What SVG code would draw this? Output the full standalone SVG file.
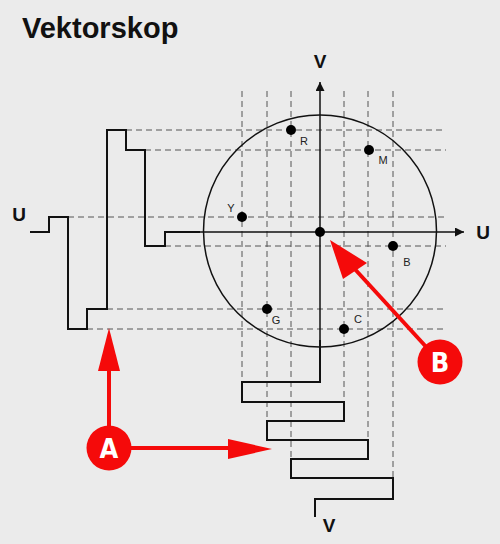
<svg xmlns="http://www.w3.org/2000/svg" width="500" height="544" viewBox="0 0 500 544">
<style>
.bg{fill:#ebebeb}
.dash{fill:none;stroke:#555;stroke-width:1;stroke-dasharray:6 4}
.wave{fill:none;stroke:#111;stroke-width:2}
.axis{fill:none;stroke:#111;stroke-width:1.5}
.dot{fill:#000}
.lbl{font-family:"Liberation Sans",Arial,sans-serif;font-size:11px;fill:#222;text-anchor:middle}
.big{font-family:"Liberation Sans",Arial,sans-serif;font-weight:bold;fill:#111;text-anchor:middle}
.red{fill:#f50a0a}
.redl{stroke:#f50a0a;stroke-width:4;fill:none}
.mark{font-family:"Liberation Sans Narrow","DejaVu Sans Condensed","Liberation Sans",sans-serif;font-weight:bold;font-size:27px;fill:#fff;text-anchor:middle}
</style>
<defs>
<marker id="ah" viewBox="0 0 10 10" refX="10" refY="5" markerWidth="9" markerHeight="9" markerUnits="userSpaceOnUse" orient="auto"><path d="M0,0 L10,5 L0,10 z" fill="#111"/></marker>
</defs>
<rect class="bg" x="0" y="0" width="500" height="544"/>
<text x="22" y="38" font-family="'Liberation Sans',Arial,sans-serif" font-weight="bold" font-size="29" fill="#111">Vektorskop</text>

<g id="gridlines">
<path class="dash" d="M126,130H446 M145,150H446 M68,217H446 M165,246H446 M107,309H446 M87,329H446"/>
<path class="dash" d="M242,91V382 M267,91V421 M291,91V459 M344,91V402 M368,91V440 M393,91V478"/>
</g>

<g id="scope">
<ellipse cx="320" cy="231" rx="116.5" ry="116" fill="none" stroke="#111" stroke-width="1.5"/>
</g>

<g id="axes">
<path class="axis" d="M165,232H464" marker-end="url(#ah)"/>
<path class="axis" d="M320,382V82" marker-end="url(#ah)"/>
<text class="big" x="483" y="239" font-size="19">U</text>
<text class="big" x="320" y="68" font-size="19">V</text>
</g>

<g id="u-wave">
<polyline class="wave" points="30,232 49,232 49,217 68,217 68,329 87,329 87,309 107,309 107,130 126,130 126,150 145,150 145,246 165,246 165,232 200,232"/>
<text class="big" x="19" y="221" font-size="19">U</text>
</g>

<g id="v-wave">
<polyline class="wave" points="320,340 320,382 242,382 242,402 344,402 344,421 267,421 267,440 368,440 368,459 291,459 291,478 393,478 393,499 315,499 315,517"/>
<text class="big" x="329" y="532" font-size="19">V</text>
</g>

<g id="points">
<circle class="dot" cx="291" cy="130" r="5"/><text class="lbl" x="304" y="145">R</text>
<circle class="dot" cx="369" cy="150" r="5"/><text class="lbl" x="383" y="164">M</text>
<circle class="dot" cx="242" cy="217" r="5"/><text class="lbl" x="231" y="212">Y</text>
<circle class="dot" cx="320" cy="232" r="5"/>
<circle class="dot" cx="393" cy="246" r="5"/><text class="lbl" x="407" y="266">B</text>
<circle class="dot" cx="267" cy="309" r="5"/><text class="lbl" x="276" y="324">G</text>
<circle class="dot" cx="344" cy="329" r="5"/><text class="lbl" x="358" y="323">C</text>
</g>

<g id="marker-a">
<path class="redl" d="M109,448V368 M109,448H230"/>
<path class="red" d="M109,328 L120,371 L98,371 z"/>
<path class="red" d="M272,449 L228,439 L228,459 z"/>
<circle class="red" cx="109" cy="448" r="22.5"/>
<text class="mark" x="109" y="458">A</text>
</g>

<g id="marker-b">
<path class="redl" d="M440,362L352,266"/>
<path class="red" d="M330,240 L367,263 L343,279 z"/>
<circle class="red" cx="440" cy="362" r="22.5"/>
<text class="mark" x="440" y="372">B</text>
</g>
</svg>
